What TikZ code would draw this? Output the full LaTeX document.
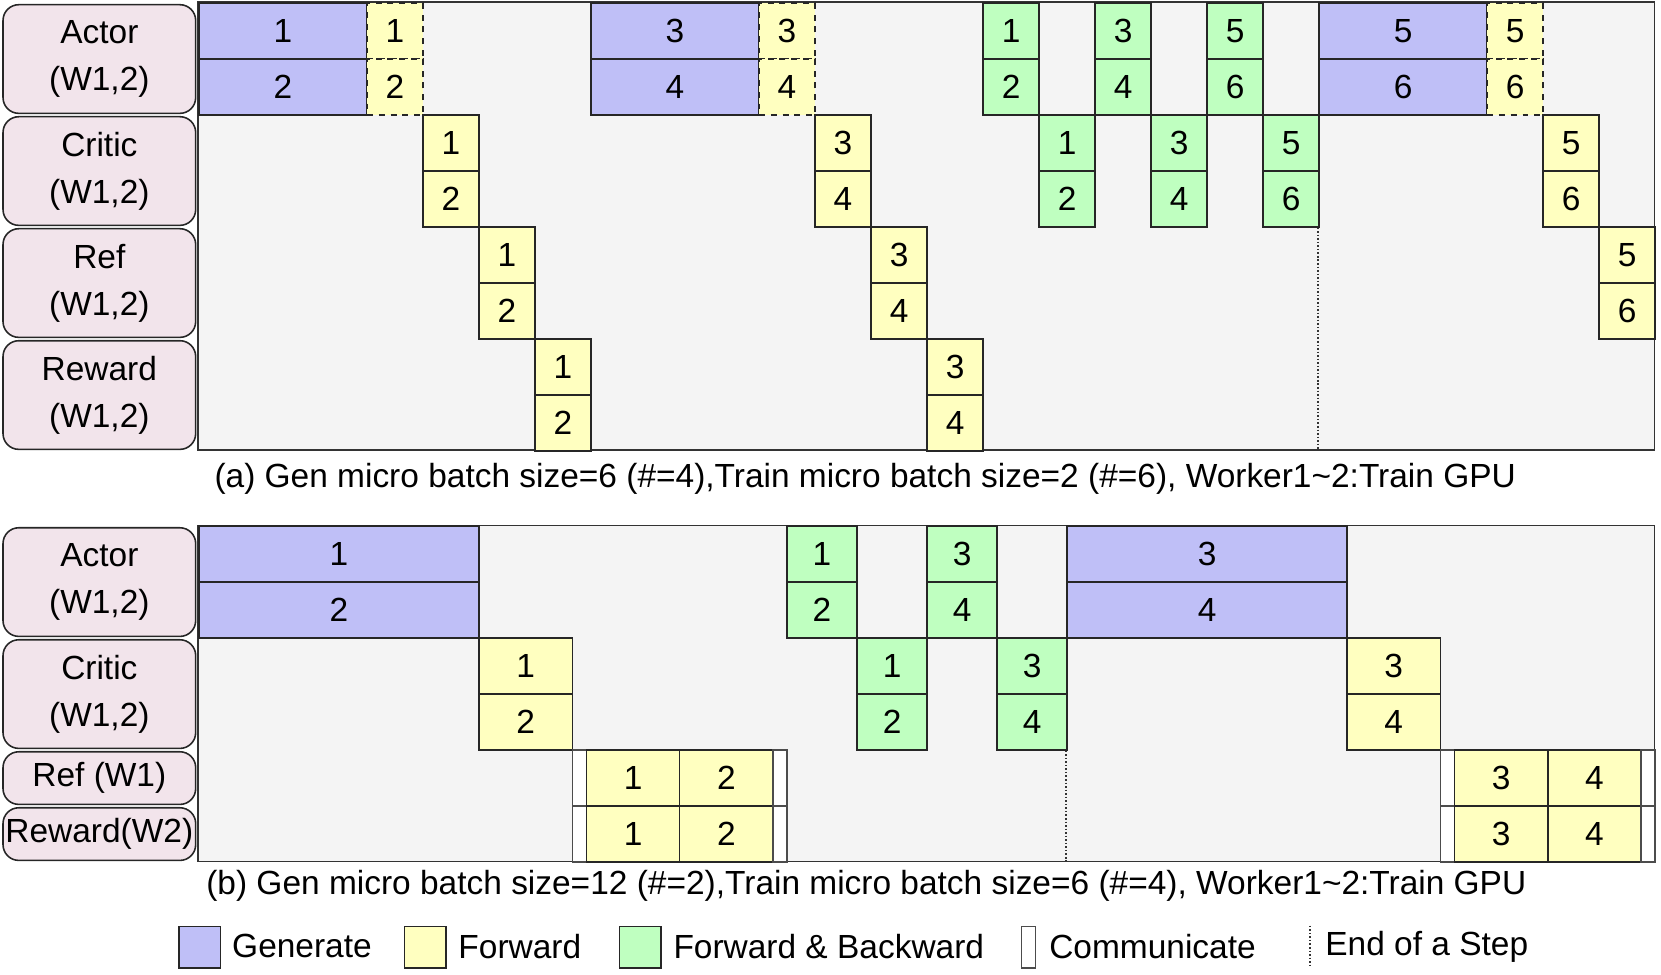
\documentclass[tikz,border=0pt]{standalone}
\usepackage{fontspec}
\setmainfont{Liberation Sans}
\usetikzlibrary{calc}
\definecolor{genc}{HTML}{BFBFF7}
\definecolor{fwdc}{HTML}{FFFFC0}
\definecolor{fbc}{HTML}{BFFFC0}
\definecolor{labc}{HTML}{F2E4EB}
\definecolor{bgc}{HTML}{F4F4F4}
\tikzset{
  cell/.style={draw=black!85,thick,rectangle,inner sep=0pt,anchor=north west,minimum height=1cm,font=\fontsize{17}{20}\selectfont},
  gen/.style={cell,fill=genc},
  fwd/.style={cell,fill=fwdc},
  fwdd/.style={cell,fill=fwdc,dashed},
  fb/.style={cell,fill=fbc},
  comm/.style={cell,fill=white,draw=black!70,minimum width=0.25cm},
  lab/.style={draw=black!85,thick,fill=labc,rounded corners=8pt,anchor=north west,minimum width=3.44cm,align=center,font=\fontsize{17}{24}\selectfont},
  stepend/.style={densely dotted,thick,black!80},
}
% cell: name, x, y (top), width, style, text
\newcommand*{\cl}[6]{\node[#5,minimum width=#4cm] (#1) at (3.54+#2,#3) {#6};}

\begin{document}
\begin{tikzpicture}[font=\fontsize{17}{20}\selectfont]
\useasboundingbox (0,0) rectangle (29.66,-17.41);
% (a)
\draw[thick,black!80,fill=bgc] (3.54,-0.04) rectangle (29.54,-8.04);
\draw[stepend] (23.54,-2.04) -- (23.54,-8.04);
\foreach \t/\n [count=\i from 0] in {Actor/actA,Critic/criA,Ref/refA,Reward/rewA}
  \node[lab,minimum height=1.94cm] (\n) at (0.04,-0.07-2*\i) {\t\\(W1,2)};
\foreach \x/\a/\b in {0/1/2,7/3/4,20/5/6}{
  \cl{ga\a}{\x}{-0.04}{3}{gen}{\a}
  \cl{gb\a}{\x}{-1.04}{3}{gen}{\b}
  \cl{da\a}{\x+3}{-0.04}{1}{fwdd}{\a}
  \cl{db\a}{\x+3}{-1.04}{1}{fwdd}{\b}}
\foreach \x/\a/\b in {14/1/2,16/3/4,18/5/6}{
  \cl{fa\a}{\x}{-0.04}{1}{fb}{\a}
  \cl{fb\a}{\x}{-1.04}{1}{fb}{\b}
  \cl{ca\a}{\x+1}{-2.04}{1}{fb}{\a}
  \cl{cb\a}{\x+1}{-3.04}{1}{fb}{\b}}
\foreach \x/\r/\a/\b in {4/2/1/2,11/2/3/4,24/2/5/6,5/4/1/2,12/4/3/4,25/4/5/6,6/6/1/2,13/6/3/4}{
  \cl{ya\x}{\x}{-0.04-\r}{1}{fwd}{\a}
  \cl{yb\x}{\x}{-1.04-\r}{1}{fwd}{\b}}
\node (capA) at (15.45,-8.55) {(a) Gen micro batch size=6 (\#=4),Train micro batch size=2 (\#=6), Worker1\textasciitilde2:Train GPU};
% (b)
\draw[thick,black!80,fill=bgc] (3.54,-9.38) rectangle (29.54,-15.38);
\draw[stepend] (19.04,-11.38) -- (19.04,-15.38);
\node[lab,minimum height=1.94cm] (actB) at (0.04,-9.41) {Actor\\(W1,2)};
\node[lab,minimum height=1.94cm] (criB) at (0.04,-11.41) {Critic\\(W1,2)};
\node[lab,minimum height=0.94cm] (refB) at (0.04,-13.41) {Ref (W1)};
\node[lab,minimum height=0.94cm,inner sep=1pt] (rewB) at (0.04,-14.41) {Reward(W2)};
\foreach \x/\a/\b in {0/1/2,15.5/3/4}{
  \cl{gA\a}{\x}{-9.38}{5}{gen}{\a}
  \cl{gB\a}{\x}{-10.38}{5}{gen}{\b}
  \cl{yA\a}{\x+5}{-11.38}{1.667}{fwd}{\a}
  \cl{yB\a}{\x+5}{-12.38}{1.667}{fwd}{\b}
  \foreach \r in {13.38,14.38}{
    \cl{cl\a\r}{\x+6.667}{-\r}{0.25}{comm}{}
    \cl{rl\a\r}{\x+6.917}{-\r}{1.667}{fwd}{\a}
    \cl{rr\a\r}{\x+8.583}{-\r}{1.667}{fwd}{\b}
    \cl{cr\a\r}{\x+10.25}{-\r}{0.25}{comm}{}}}
\foreach \x/\a/\b in {10.5/1/2,13/3/4}{
  \cl{fA\a}{\x}{-9.38}{1.25}{fb}{\a}
  \cl{fB\a}{\x}{-10.38}{1.25}{fb}{\b}
  \cl{cA\a}{\x+1.25}{-11.38}{1.25}{fb}{\a}
  \cl{cB\a}{\x+1.25}{-12.38}{1.25}{fb}{\b}}
\node (capB) at (15.47,-15.82) {(b) Gen micro batch size=12 (\#=2),Train micro batch size=6 (\#=4), Worker1\textasciitilde2:Train GPU};
% legend
\node[gen,minimum width=0.74cm,minimum height=0.74cm] (lg) at (3.18,-16.53) {};
\node[anchor=west,inner sep=0pt] at (4.14,-16.9) {Generate};
\node[fwd,minimum width=0.74cm,minimum height=0.74cm] (lf) at (7.21,-16.53) {};
\node[anchor=west,inner sep=0pt] at (8.18,-16.9) {Forward};
\node[fb,minimum width=0.74cm,minimum height=0.74cm] (lb) at (11.05,-16.53) {};
\node[anchor=west,inner sep=0pt] at (12.02,-16.9) {Forward \& Backward};
\node[comm,minimum height=0.74cm] (lc) at (18.23,-16.53) {};
\node[anchor=west,inner sep=0pt] at (18.73,-16.9) {Communicate};
\draw[stepend] (23.39,-16.53) -- (23.39,-17.27);
\node[anchor=west,inner sep=0pt] at (23.66,-16.9) {End of a Step};
\end{tikzpicture}
\end{document}
